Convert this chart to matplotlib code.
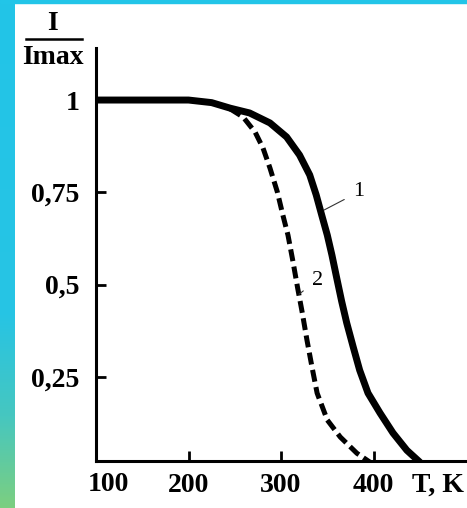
import numpy as np
import matplotlib
matplotlib.use("Agg")
import matplotlib.pyplot as plt
from matplotlib.patches import Rectangle
from matplotlib.lines import Line2D
from matplotlib.colors import LinearSegmentedColormap

# curve 1 (solid) and curve 2 (dashed)
T1 = [100, 200, 225, 245, 266, 288, 306, 320, 331, 338, 344, 350, 355, 360,
      365.5, 371, 378, 385, 394, 407, 421, 436, 450]
I1 = [1.0, 1.0, 0.993, 0.978, 0.965, 0.938, 0.900, 0.851, 0.797, 0.743, 0.688,
      0.634, 0.580, 0.520, 0.455, 0.396, 0.331, 0.268, 0.206, 0.152, 0.098,
      0.051, 0.019]

T2 = [245, 259, 272, 280.5, 288, 296, 302, 307.5, 313, 318, 323, 328, 333.5,
      339, 350, 364, 382, 396]
I2 = [0.976, 0.954, 0.913, 0.870, 0.816, 0.751, 0.688, 0.634, 0.561, 0.490,
      0.423, 0.350, 0.276, 0.206, 0.133, 0.087, 0.043, 0.019]

xticks = [200, 300, 400]
yticks = [1, 0.75, 0.5, 0.25]
ytick_labels = ["1", "0,75", "0,5", "0,25"]

W, H = 467, 508
fig = plt.figure(figsize=(W / 100, H / 100), dpi=100)
fig.patch.set_facecolor("white")

serif = ["Liberation Serif", "DejaVu Serif"]

# decorative frame: gradient strip on the left, thin cyan strip on top
cmap = LinearSegmentedColormap.from_list(
    "strip", [(0.0, "#22c5e8"), (0.62, "#27c4e4"), (0.82, "#46c7c0"), (1.0, "#7ccf80")])
sax = fig.add_axes([0, 0, 15 / W, 1])
sax.imshow(np.linspace(0, 1, 256).reshape(-1, 1), aspect="auto", cmap=cmap,
           extent=[0, 1, 0, 1], origin="upper")
sax.axis("off")
fig.patches.append(Rectangle((0, 1 - 3 / H), 1, 3 / H, transform=fig.transFigure,
                             color="#22c5e8", zorder=5))

ax = fig.add_axes([96 / W, (H - 461) / H, (W - 96) / W, (461 - 48) / H])
ax.plot(T1, I1, color="black", lw=5, solid_capstyle="round", solid_joinstyle="round")
ax.plot(T2, I2, color="black", lw=3.6, dashes=(2.4, 1.1))

ax.set_xlim(100, 501)
ax.set_ylim(0.022, 1.141)
for s in ["top", "right"]:
    ax.spines[s].set_visible(False)
for s in ["left", "bottom"]:
    ax.spines[s].set_linewidth(2.2)

ax.set_xticks(xticks)
ax.set_xticklabels([str(t) for t in xticks])
ax.set_yticks(yticks)
ax.set_yticklabels(ytick_labels)
ax.tick_params(direction="in", length=7, width=2, pad=9)
ax.tick_params(axis="y", pad=12)
for lab in ax.get_xticklabels() + ax.get_yticklabels():
    lab.set_fontfamily(serif)
    lab.set_fontweight("bold")
    lab.set_fontsize(20)

ax.text(113, -0.027, "100", transform=ax.get_xaxis_transform(), ha="center",
        va="top", fontsize=20, fontweight="bold", family=serif)

# curve numbers with leader lines
ax.annotate("1", xy=(346.5, 0.702), xytext=(384, 0.751), fontsize=16, family=serif,
            ha="center", va="center",
            arrowprops=dict(arrowstyle="-", color="#333333", lw=0.8, shrinkA=5, shrinkB=0))
ax.annotate("2", xy=(319.5, 0.474), xytext=(339, 0.512), fontsize=16, family=serif,
            ha="center", va="center",
            arrowprops=dict(arrowstyle="-", color="#333333", lw=0.8, shrinkA=5, shrinkB=0))

# axis titles
fig.text(52 / W, 1 - 24 / H, "I", ha="center", va="center", fontsize=20,
         fontweight="bold", family=serif)
fig.add_artist(Line2D([26 / W, 82 / W], [1 - 39 / H, 1 - 39 / H],
                      transform=fig.transFigure, color="black", lw=1.8))
fig.text(53 / W, 1 - 57 / H, "Imax", ha="center", va="center", fontsize=20,
         fontweight="bold", family=serif)
fig.text(412 / W, 1 - 485 / H, "T, K", ha="left", va="center", fontsize=20,
         fontweight="bold", family=serif)

fig.savefig("out.png", dpi=100)
